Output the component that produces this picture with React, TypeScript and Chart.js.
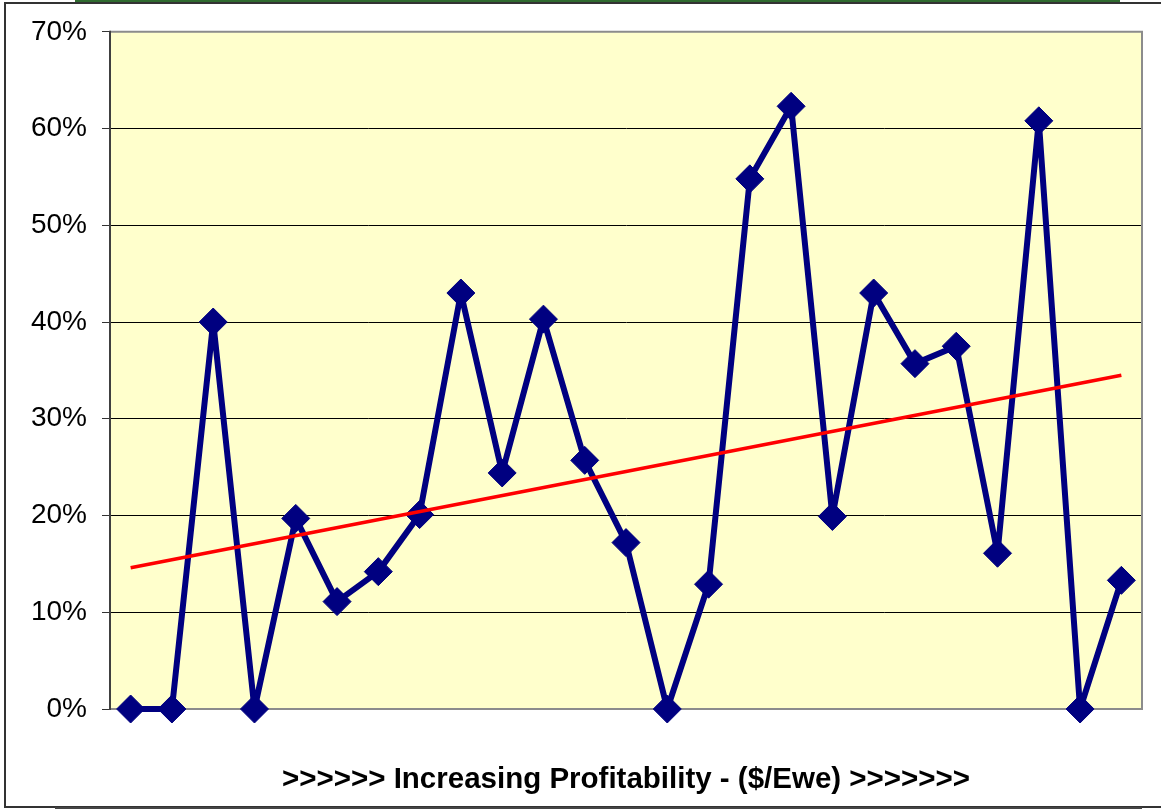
import React, { useEffect, useRef } from "react";
import { Chart, registerables } from "chart.js";

Chart.register(...registerables);

// Data
const categories: string[] = [
  "1", "2", "3", "4", "5", "6", "7", "8", "9", "10", "11", "12", "13",
  "14", "15", "16", "17", "18", "19", "20", "21", "22", "23", "24", "25",
];
const profitShare: number[] = [
  0, 0, 40.0, 0, 19.7, 11.1, 14.2, 20.1, 43.0, 24.4, 40.3, 25.7, 17.2,
  0, 12.9, 54.8, 62.3, 19.9, 43.0, 35.7, 37.5, 16.1, 60.8, 0, 13.3,
];
const trendStart = 14.6;
const trendEnd = 34.5;
const yMin = 0;
const yMax = 70;
const yStep = 10;
const xTitle = ">>>>>> Increasing Profitability - ($/Ewe) >>>>>>>";

export default function App() {
  const ref = useRef<HTMLCanvasElement | null>(null);

  useEffect(() => {
    if (!ref.current) return;
    Chart.defaults.font.family = '"Liberation Sans", Arial, sans-serif';

    const trend = categories.map((_, i) =>
      i === 0 ? trendStart : i === categories.length - 1 ? trendEnd : null
    );

    const plotArea = {
      id: "plotArea",
      beforeDraw(chart: any) {
        const { ctx, chartArea } = chart;
        const { left, top, right, bottom } = chartArea;
        ctx.save();
        ctx.fillStyle = "#FFFFCC";
        ctx.fillRect(left, top, right - left, bottom - top);
        ctx.restore();
      },
      beforeDatasetsDraw(chart: any) {
        const { ctx, chartArea } = chart;
        const { left, top, right, bottom } = chartArea;
        ctx.save();
        ctx.strokeStyle = "#8C8C8C";
        ctx.lineWidth = 2;
        ctx.beginPath();
        ctx.moveTo(left, top);
        ctx.lineTo(right, top);
        ctx.lineTo(right, bottom);
        ctx.lineTo(left, bottom);
        ctx.stroke();
        ctx.strokeStyle = "#404040";
        ctx.beginPath();
        ctx.moveTo(left, top - 1);
        ctx.lineTo(left, bottom + 1);
        ctx.stroke();
        ctx.restore();
      },
    };

    const chart = new Chart(ref.current, {
      type: "line",
      data: {
        labels: categories,
        datasets: [
          {
            label: "Trend",
            data: trend,
            borderColor: "#FF0000",
            borderWidth: 3.5,
            pointRadius: 0,
            spanGaps: true,
            fill: false,
            clip: false,
          },
          {
            label: "Share",
            data: profitShare,
            borderColor: "#000080",
            backgroundColor: "#000080",
            borderWidth: 6,
            borderJoinStyle: "round",
            pointStyle: "rectRot",
            pointRadius: 14,
            pointBorderWidth: 1,
            pointBackgroundColor: "#000080",
            pointBorderColor: "#000080",
            fill: false,
            tension: 0,
            clip: false,
          },
        ],
      },
      plugins: [plotArea],
      options: {
        responsive: false,
        animation: false,
        layout: { padding: { left: 0, top: 28, right: 19, bottom: 0 } },
        plugins: {
          legend: { display: false },
          tooltip: { enabled: false },
          title: { display: false },
        },
        scales: {
          x: {
            type: "category",
            offset: true,
            grid: { display: false },
            border: { display: false },
            ticks: { display: false },
            title: {
              display: true,
              text: xTitle,
              color: "#000",
              font: { size: 29.5, weight: "bold" },
              padding: { top: 0, bottom: 12 },
            },
            afterFit(scale: any) {
              scale.height = 101;
            },
          },
          y: {
            min: yMin,
            max: yMax,
            ticks: {
              stepSize: yStep,
              color: "#000",
              font: { size: 28 },
              padding: 15,
              callback: (v: any) => `${v}%`,
            },
            grid: {
              color: "#000",
              lineWidth: 1,
              tickLength: 8,
              tickColor: "#333",
            },
            border: { display: true, color: "#404040", width: 2 },
            afterFit(scale: any) {
              scale.width = 110;
            },
          },
        },
      },
    });
    return () => chart.destroy();
  }, []);

  return (
    <div
      style={{
        position: "fixed",
        left: 0,
        top: 0,
        width: 1161,
        height: 810,
        background: "#fff",
        overflow: "hidden",
      }}
    >
      <canvas ref={ref} width={1161} height={810} style={{ display: "block" }} />
      <div
        style={{
          position: "absolute",
          left: 4,
          top: 2,
          width: 1200,
          height: 802,
          borderLeft: "2px solid #333",
          borderTop: "2px solid #333",
          borderBottom: "2px solid #333",
          pointerEvents: "none",
        }}
      />
      <div
        style={{
          position: "absolute",
          left: 75,
          top: 0,
          width: 1045,
          height: 2,
          background: "#2F6B2F",
          pointerEvents: "none",
        }}
      />
      <div
        style={{
          position: "absolute",
          left: 55,
          top: 807,
          width: 1087,
          height: 2,
          background: "#444",
          pointerEvents: "none",
        }}
      />
    </div>
  );
}
